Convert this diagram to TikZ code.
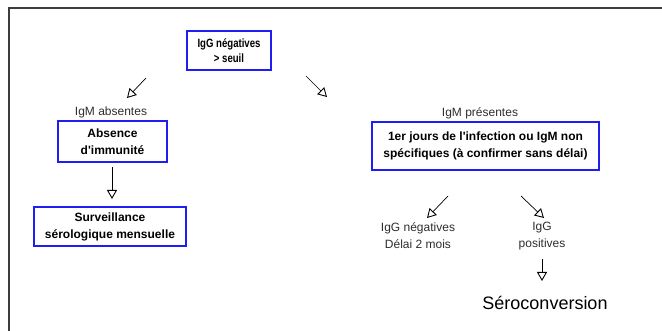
\documentclass[tikz,border=0pt]{standalone}
\usepackage{fontspec}
\setmainfont{Liberation Sans}
\newfontfamily\arialf{Liberation Sans}
\newfontfamily\arialn{Liberation Sans}[FakeStretch=0.8]
\usetikzlibrary{arrows.meta}
\begin{document}
\begin{tikzpicture}[x=1pt,y=-1pt,
  bluebox/.style={draw={rgb,255:red,30;green,30;blue,240}, line width=1.2pt, align=center, font=\arialf\fontsize{12}{17}\selectfont\bfseries, inner sep=0pt},
  lbl/.style={align=center, font=\arialf\fontsize{12}{17}\selectfont, text={rgb,255:red,45;green,45;blue,45}},
  arr/.style={line width=0.7pt, -{Triangle[open, length=9pt, width=10pt, line width=0.9pt]}}]
\useasboundingbox (0,0) rectangle (662,331);
\draw[line width=1.8pt, color={rgb,255:red,60;green,60;blue,60}] (9,331) -- (9,8) -- (662,8);

\node[bluebox, minimum width=84pt, minimum height=39pt, font=\arialn\fontsize{12}{15.5}\selectfont\bfseries] (top) at (229,50.5) {IgG négatives\\> seuil};
\node[lbl] (igmabs) at (111,112.5) {IgM absentes};
\node[bluebox, minimum width=109pt, minimum height=41pt] (absence) at (112.5,141.5) {Absence\\d'immunité};
\node[bluebox, minimum width=152pt, minimum height=39pt] (surv) at (110,226.5) {Surveillance\\sérologique mensuelle};
\node[lbl] (igmpres) at (480,113) {IgM présentes};
\node[bluebox, minimum width=227pt, minimum height=48pt] (prem) at (485.5,146) {1er jours de l'infection ou IgM non\\spécifiques (à confirmer sans délai)};
\node[lbl] (igneg) at (418,236) {IgG négatives\\Délai 2 mois};
\node[lbl] (igpos) at (542,236) {IgG\\positives};
\node[font=\arialf\fontsize{18}{21}\selectfont] (sero) at (545,303) {Séroconversion};

\coordinate (a1s) at (146,78); \coordinate (a1e) at (127,98);
\coordinate (a2s) at (306,76); \coordinate (a2e) at (327,97);
\coordinate (a3s) at (112,167); \coordinate (a3e) at (112,199);
\coordinate (a4s) at (448,196); \coordinate (a4e) at (427,218);
\coordinate (a5s) at (521,196); \coordinate (a5e) at (544,218);
\coordinate (a6s) at (542,259); \coordinate (a6e) at (542,281);
\draw[arr] (a1s) -- (a1e);
\draw[arr] (a2s) -- (a2e);
\draw[arr] (a3s) -- (a3e);
\draw[arr] (a4s) -- (a4e);
\draw[arr] (a5s) -- (a5e);
\draw[arr] (a6s) -- (a6e);
\end{tikzpicture}
\end{document}
